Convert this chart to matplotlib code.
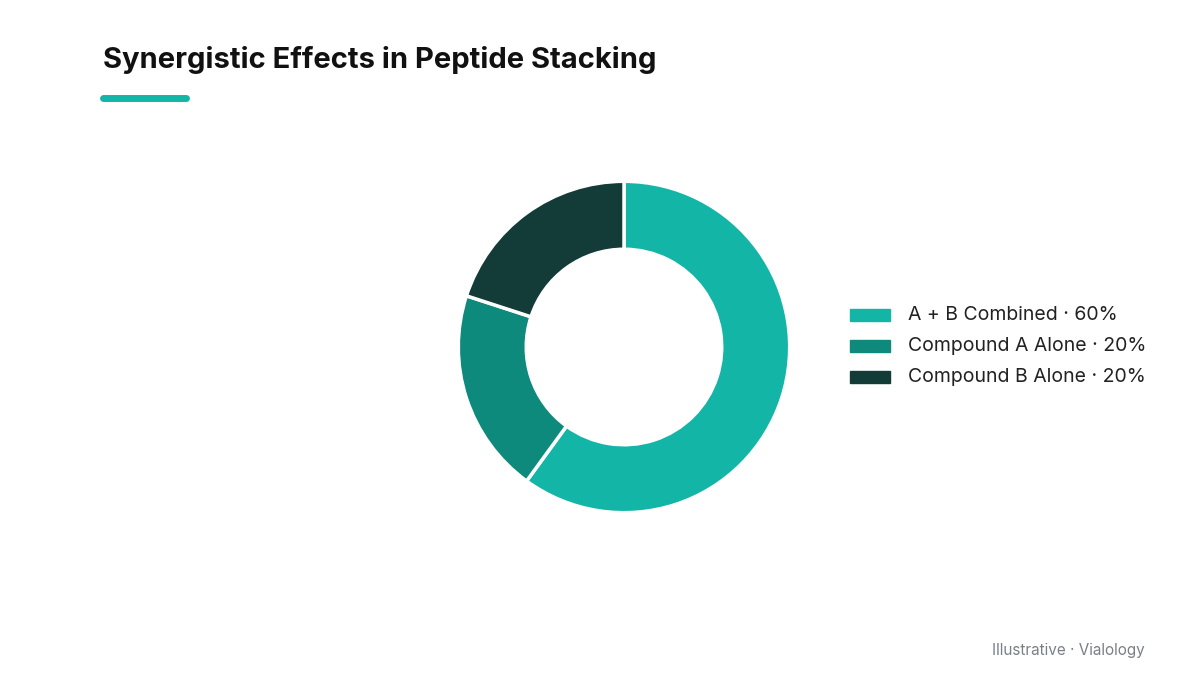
import matplotlib
matplotlib.use("Agg")
import matplotlib.pyplot as plt
from matplotlib.patches import Rectangle
from matplotlib.lines import Line2D

labels = ["A + B Combined", "Compound A Alone", "Compound B Alone"]
values = [60, 20, 20]
colors = ["#13B5A6", "#0E8A7C", "#133B38"]

plt.rcParams['font.family'] = ['Inter', 'DejaVu Sans']
fig = plt.figure(figsize=(12, 6.75), dpi=100)
W, H = 1200, 675
cx, cy, r = 624, 347, 169
ax = fig.add_axes([(cx - r) / W, (H - cy - r) / H, 2 * r / W, 2 * r / H])
ax.pie(values, colors=colors, startangle=90, counterclock=False,
       wedgeprops=dict(width=0.41, edgecolor="white", linewidth=2.5), radius=1)
ax.set_xlim(-1.02, 1.02); ax.set_ylim(-1.02, 1.02)
ax.set_aspect("equal"); ax.axis("off")

fig.text(103 / W, 1 - 60 / H, "Synergistic Effects in Peptide Stacking",
         fontsize=21, fontweight="bold", color="#111111", va="center", ha="left")
fig.add_artist(Line2D([103 / W, 186 / W], [1 - 98 / H] * 2, color="#13B5A6",
                      linewidth=5, solid_capstyle="round"))

for i, (lab, v, c) in enumerate(zip(labels, values, colors)):
    y = 315 + i * 31
    fig.add_artist(Rectangle((850 / W, 1 - (y + 6) / H), 40 / W, 12 / H,
                             color=c, transform=fig.transFigure))
    fig.text(908 / W, 1 - y / H, f"{lab} · {v}%", fontsize=14, color="#222222",
             va="center", ha="left")

fig.text(1145 / W, 1 - 650 / H, "Illustrative · Vialology", fontsize=11,
         color="#7A8088", ha="right", va="center")
fig.savefig("out.png", dpi=100, facecolor="white")
